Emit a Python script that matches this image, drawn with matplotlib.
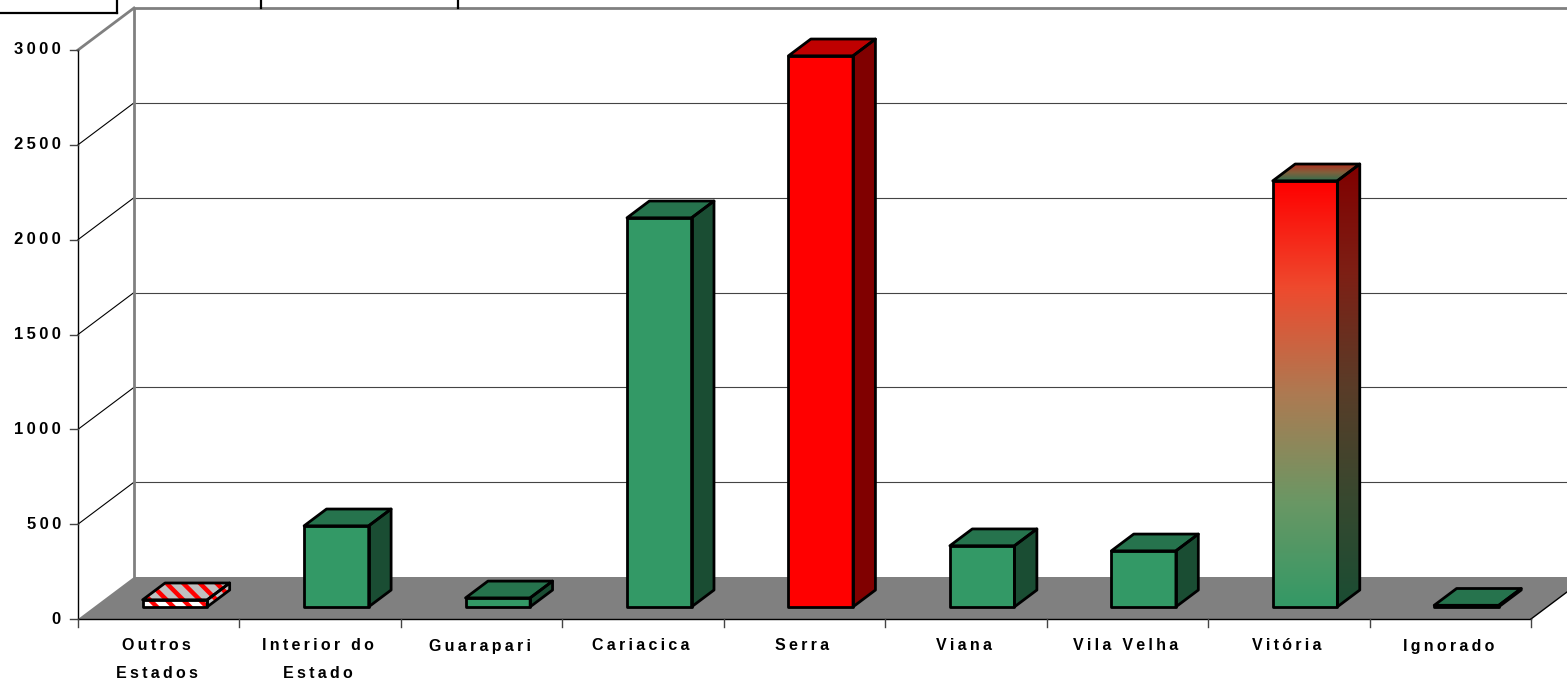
"""3D style column chart rebuilt with flat polygons on a plain axes."""

import matplotlib
matplotlib.use("Agg")
import matplotlib.pyplot as plt
from matplotlib.colors import LinearSegmentedColormap
from matplotlib.patches import Polygon
import numpy as np

categories = ["Outros\nEstados", "Interior do\nEstado", "Guarapari", "Cariacica", "Serra",
              "Viana", "Vila Velha", "Vitória", "Ignorado"]
values = [37, 427, 47, 2051, 2905, 322, 295, 2246, 8]
y_ticks = [0, 500, 1000, 1500, 2000, 2500, 3000]
fills = ["hatch", "green", "green", "green", "red", "green", "green", "gradient", "green"]

W, H = 1567, 680
X0, Y0 = 78, 619           # pixel position of category 0 / value 0
PX_CAT = 1453 / 9          # pixels per category
PX_VAL = 569 / 3000        # pixels per value unit
DX, DY = 56 / PX_CAT, 42 / PX_VAL   # depth vector of the floor

plt.rcParams["font.family"] = ["Liberation Sans", "DejaVu Sans"]
plt.rcParams["hatch.linewidth"] = 3.2

GREEN = ("#339966", "#26734d", "#1a4d33")
RED = ("#ff0000", "#bf0000", "#800000")
GRID = "#444444"
WALL = "#808080"
LW = 2.0


def spaced(s):
    return "\n".join("\u2009".join(line) for line in s.split("\n"))


def pt(x, v, d=0.0):
    return (x + d * DX, v + d * DY)


def quad(ax, pts, **kw):
    p = Polygon(pts, closed=True, **kw)
    ax.add_patch(p)
    return p


def gradient_face(ax, pts, top, bottom, stops, z=5):
    xs, ys = zip(*pts)
    cmap = LinearSegmentedColormap.from_list("g", [top] + stops + [bottom])
    patch = quad(ax, pts, facecolor="none", edgecolor="none", zorder=z)
    im = ax.imshow(np.linspace(0, 1, 256).reshape(-1, 1), cmap=cmap, aspect="auto",
                   extent=(min(xs), max(xs), min(ys), max(ys)), origin="upper", zorder=z)
    im.set_clip_path(patch)


fig = plt.figure(figsize=(W / 100, H / 100), dpi=100)
ax = fig.add_axes([0, 0, 1, 1])
ax.axis("off")
xlim = (-X0 / PX_CAT, (W - X0) / PX_CAT)
ylim = ((Y0 - H) / PX_VAL, Y0 / PX_VAL)

n = len(categories)
top = y_ticks[-1]

# floor
quad(ax, [pt(0, 0), pt(n, 0), pt(n, 0, 1), pt(0, 0, 1)], facecolor=WALL, edgecolor="none", zorder=1)

# walls and grid
for v in y_ticks[1:-1]:
    ax.plot(*zip(pt(0, v, 1), pt(n, v, 1)), color=GRID, lw=0.8, zorder=2)
    ax.plot(*zip(pt(0, v), pt(0, v, 1)), color="black", lw=0.8, zorder=2)
ax.plot(*zip(pt(0, 0, 1), pt(0, top, 1), pt(n, top, 1)), color=WALL, lw=2, zorder=3)
ax.plot(*zip(pt(0, top), pt(0, top, 1)), color=WALL, lw=2, zorder=3)
ax.plot(*zip(pt(0, 0), pt(0, top)), color="black", lw=1, zorder=3)
ax.plot(*zip(pt(n, 0), pt(n, 0, 1)), color="black", lw=1, zorder=3)
ax.plot(*zip(pt(0, 0), pt(n, 0)), color="black", lw=1, zorder=3)

# ticks
tick_x = 8 / PX_CAT
tick_y = 8 / PX_VAL
for v in y_ticks:
    ax.plot([-tick_x, 0], [v, v], color=GRID, lw=1, zorder=3)
    ax.text(-17 / PX_CAT, v, spaced(str(v)), ha="right", va="center", fontsize=12,
            fontweight="bold", color="black")
for i in range(n + 1):
    ax.plot([i, i], [0, -tick_y], color=GRID, lw=1, zorder=3)

# bars
BAR_L, BAR_W = 0.30, 0.40
D0, D1 = 0.29, 0.69
for i, (v, fill) in enumerate(zip(values, fills)):
    l, r = i + BAR_L, i + BAR_L + BAR_W
    front = [pt(l, 0, D0), pt(r, 0, D0), pt(r, v, D0), pt(l, v, D0)]
    side = [pt(r, 0, D0), pt(r, 0, D1), pt(r, v, D1), pt(r, v, D0)]
    roof = [pt(l, v, D0), pt(r, v, D0), pt(r, v, D1), pt(l, v, D1)]
    if fill == "hatch":
        quad(ax, front, facecolor="white", edgecolor="#ff0000", lw=0, hatch="\\\\", zorder=5)
        quad(ax, side, facecolor="#c0c0c0", edgecolor="#ff0000", lw=0, hatch="\\\\", zorder=5)
        quad(ax, roof, facecolor="#c0c0c0", edgecolor="#ff0000", lw=0, hatch="\\\\", zorder=5)
    elif fill == "gradient":
        gradient_face(ax, front, RED[0], GREEN[0], ["#ee4a2e", "#ad7a52", "#6b9764"])
        gradient_face(ax, side, RED[2], GREEN[2], ["#7d2015", "#5a3c28", "#38482f"])
        gradient_face(ax, roof, "#b03020", "#2f7050", ["#80603c"])
    else:
        c = GREEN if fill == "green" else RED
        quad(ax, front, facecolor=c[0], edgecolor="none", zorder=5)
        quad(ax, side, facecolor=c[2], edgecolor="none", zorder=5)
        quad(ax, roof, facecolor=c[1], edgecolor="none", zorder=5)
    for face in (front, side, roof):
        quad(ax, face, facecolor="none", edgecolor="black", lw=LW, joinstyle="round", zorder=6)
    ax.text(i + 0.5 - 2 / PX_CAT, -19.5 / PX_VAL, spaced(categories[i]), ha="center", va="top",
            fontsize=11.5, fontweight="bold", linespacing=2.05, color="black")

# piece of a table cut off at the top of the page
to_x = lambda px: (px - X0) / PX_CAT
to_y = lambda py: (Y0 - py) / PX_VAL
ax.plot([to_x(0), to_x(117)], [to_y(13), to_y(13)], color="black", lw=1.6, zorder=4)
for px, py in [(117, 13), (261, 8), (458, 8)]:
    ax.plot([to_x(px), to_x(px)], [to_y(0), to_y(py)], color="black", lw=1.6, zorder=4)

ax.set_xlim(*xlim)
ax.set_ylim(*ylim)
fig.savefig("out.png", dpi=100)
